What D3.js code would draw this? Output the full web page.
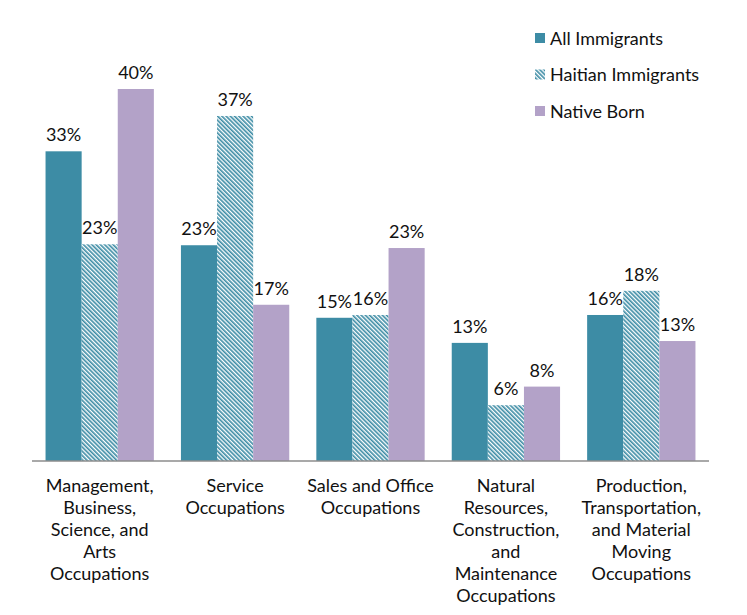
<!DOCTYPE html>
<html>
<head>
<meta charset="utf-8">
<script src="https://cdn.jsdelivr.net/npm/d3@7"></script>
<style>
  body { margin: 0; background: #fff; }
  text { font-family: Lato, "Open Sans", sans-serif; fill: #111; }
</style>
</head>
<body>
<script>
// occupation categories, each label split into lines
var categories = [
  ['Management,', 'Business,', 'Science, and', 'Arts', 'Occupations'],
  ['Service', 'Occupations'],
  ['Sales and Office', 'Occupations'],
  ['Natural', 'Resources,', 'Construction,', 'and', 'Maintenance', 'Occupations'],
  ['Production,', 'Transportation,', 'and Material', 'Moving', 'Occupations']
];
var seriesNames = ['All Immigrants', 'Haitian Immigrants', 'Native Born'];

// percent values
var allImmigrants = [33.3, 23.2, 15.4, 12.7, 15.7];
var haitianImmigrants = [23.3, 37.1, 15.7, 6.0, 18.3];
var nativeBorn = [40.0, 16.8, 22.9, 8.0, 12.9];

var width = 747, height = 615;
var margin = { top: 20, right: 38, bottom: 154, left: 32 };

var svg = d3.select('body').append('svg')
  .attr('width', width)
  .attr('height', height);

// hatch pattern for Haitian immigrants
var defs = svg.append('defs');
defs.append('pattern')
  .attr('id', 'hatch')
  .attr('patternUnits', 'userSpaceOnUse')
  .attr('width', 3)
  .attr('height', 3)
  .attr('patternTransform', 'rotate(-45)')
  .call(function (p) {
    p.append('rect').attr('width', 3).attr('height', 3).attr('fill', '#fff');
    p.append('rect').attr('width', 1.65).attr('height', 3).attr('fill', '#3d8ca5');
  });

var colors = ['#3d8ca5', 'url(#hatch)', '#b3a2c8'];
var series = [allImmigrants, haitianImmigrants, nativeBorn];

var x0 = d3.scaleBand()
  .domain(d3.range(categories.length))
  .range([margin.left, width - margin.right])
  .paddingInner(0.2)
  .paddingOuter(0.1);

var x1 = d3.scaleBand()
  .domain(d3.range(series.length))
  .range([0, x0.bandwidth()]);

var y = d3.scaleLinear()
  .domain([0, 40])
  .range([height - margin.bottom, 89]);

var groups = svg.append('g')
  .selectAll('g')
  .data(categories)
  .join('g')
  .attr('transform', function (d, i) { return 'translate(' + x0(i) + ',0)'; });

groups.selectAll('rect')
  .data(function (d, i) { return series.map(function (s, j) { return { s: j, v: s[i] }; }); })
  .join('rect')
  .attr('x', function (d) { return x1(d.s); })
  .attr('width', x1.bandwidth())
  .attr('y', function (d) { return y(d.v); })
  .attr('height', function (d) { return y(0) - y(d.v); })
  .attr('fill', function (d) { return colors[d.s]; });

groups.selectAll('text.val')
  .data(function (d, i) { return series.map(function (s, j) { return { s: j, v: s[i] }; }); })
  .join('text')
  .attr('class', 'val')
  .attr('x', function (d) { return x1(d.s) + x1.bandwidth() / 2; })
  .attr('y', function (d) { return y(d.v) - 10; })
  .attr('text-anchor', 'middle')
  .style('font-size', '18px')
  .text(function (d) { return Math.round(d.v) + '%'; });

// baseline
svg.append('line')
  .attr('x1', margin.left)
  .attr('x2', width - margin.right)
  .attr('y1', y(0))
  .attr('y2', y(0))
  .attr('stroke', '#8c8c8c')
  .attr('stroke-width', 1.3);

// category labels
var xAxis = svg.append('g');
categories.forEach(function (lines, i) {
  var t = xAxis.append('text')
    .attr('text-anchor', 'middle')
    .style('font-size', '18px');
  lines.forEach(function (line, k) {
    t.append('tspan')
      .attr('x', x0(i) + x0.bandwidth() / 2)
      .attr('y', y(0) + 31 + k * 22)
      .text(line);
  });
});

// legend
var legend = svg.append('g').attr('transform', 'translate(535,38)');
seriesNames.forEach(function (name, i) {
  var row = legend.append('g').attr('transform', 'translate(0,' + i * 36.5 + ')');
  row.append('rect')
    .attr('x', 0)
    .attr('y', -5)
    .attr('width', 10)
    .attr('height', 10)
    .attr('fill', colors[i]);
  row.append('text')
    .attr('x', 15)
    .attr('y', 6.5)
    .style('font-size', '18px')
    .text(name);
});
</script>
</body>
</html>
